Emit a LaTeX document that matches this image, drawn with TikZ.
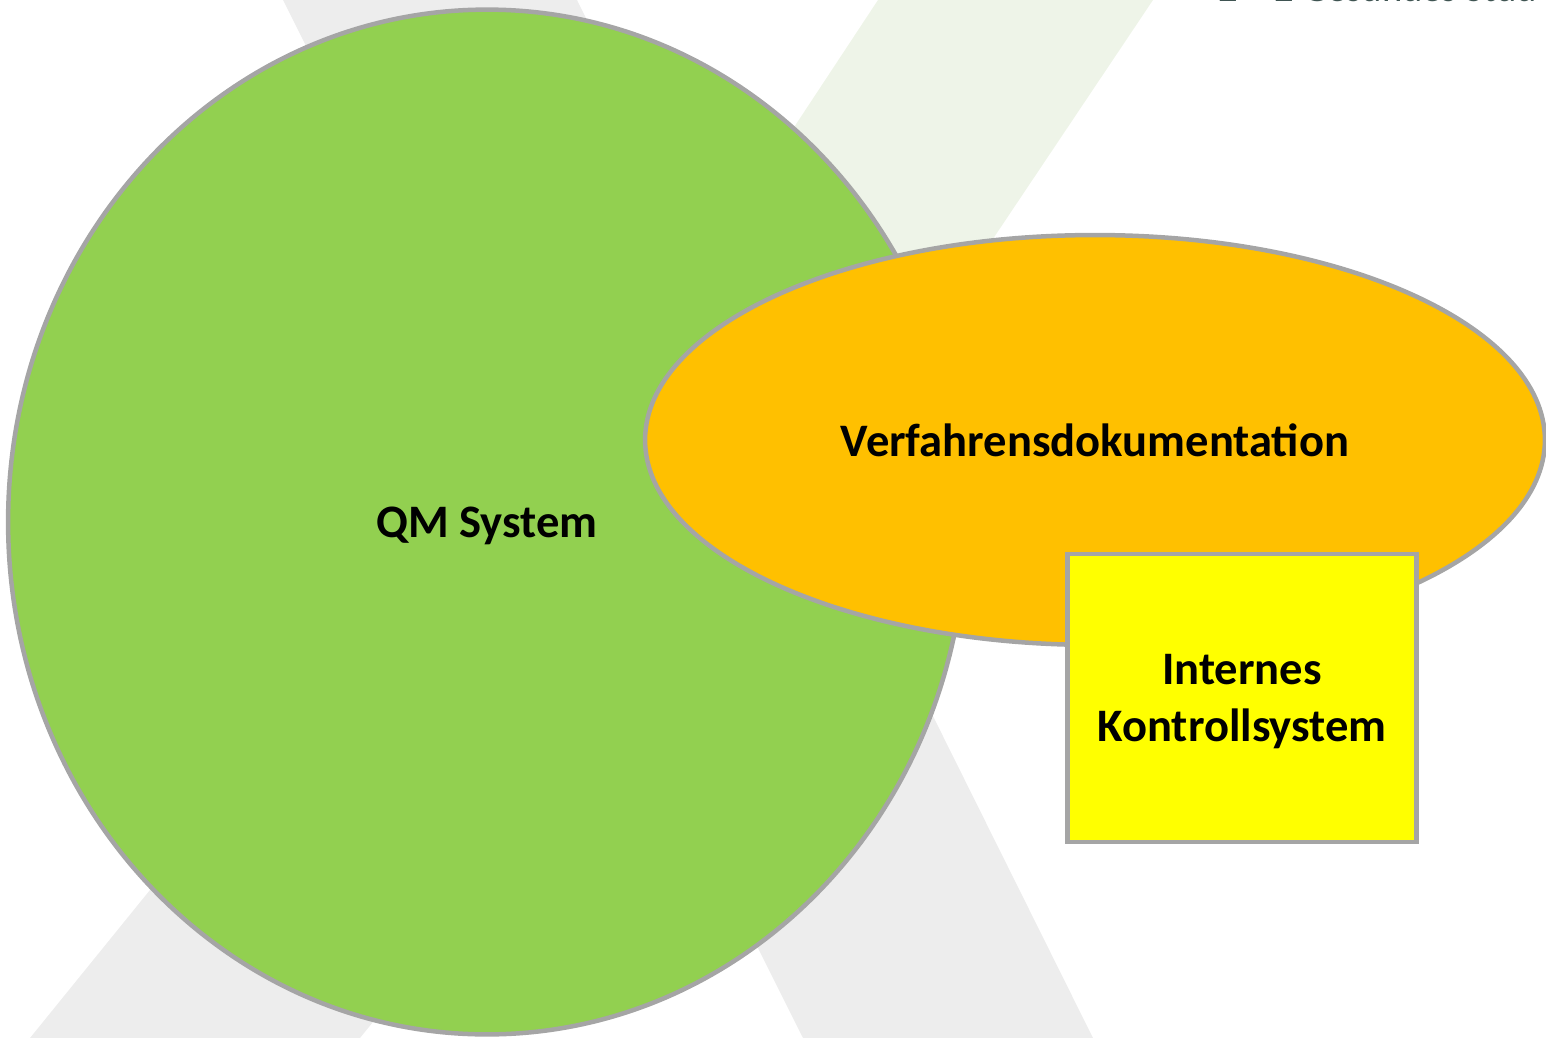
\documentclass[tikz,border=0pt]{standalone}
\usepackage{fontspec}
\setmainfont{Carlito}
\usepackage{xcolor}
\usetikzlibrary{shapes.geometric}

\definecolor{qmgreen}{HTML}{92D050}
\definecolor{docorange}{HTML}{FFC000}
\definecolor{iksyellow}{HTML}{FFFF00}
\definecolor{rimgrey}{HTML}{A5A5A5}
\definecolor{bandgrey}{HTML}{EDEDED}
\definecolor{bandgreen}{HTML}{EEF4E8}
\definecolor{headgrey}{HTML}{3F5452}

\begin{document}
\begin{tikzpicture}[x=0.02cm,y=-0.02cm,
    rim/.style={draw=rimgrey,line width=0.09cm,inner sep=0pt},
    bigtext/.style={font=\bfseries\fontsize{26.5}{32}\selectfont,text=black,text depth=0pt}]
    \useasboundingbox (0,0) rectangle (1546,1038);
    \clip (0,0) rectangle (1546,1038);

    % Logo bands in the background
    \fill[bandgrey] (283,0) -- (577,0) -- (1093,1038) -- (803,1038) -- cycle;
    \fill[bandgreen] (878,0) -- (1153,0) -- (818,500) -- (548,500) -- cycle;
    \fill[bandgrey] (30,1038) -- (360,1038) -- (634,700) -- (304,700) -- cycle;

    % Page header, cut at the top edge
    \node[anchor=base west,inner sep=0pt,text=headgrey,
          font=\fontsize{22}{26}\selectfont] (head) at (1218,1) {2 -- 2 Gesundes Stud};

    % QM system
    \node[rim,ellipse,fill=qmgreen,minimum width=19.16cm,minimum height=20.5cm,
          bigtext] (qm) at (487,522) {QM System};

    % Verfahrensdokumentation
    \node[rim,ellipse,fill=docorange,minimum width=18cm,minimum height=8.2cm,
          bigtext] (doc) at (1095,440) {Verfahrensdokumentation};

    % Internes Kontrollsystem
    \node[rim,rectangle,fill=iksyellow,minimum width=6.98cm,minimum height=5.76cm,
          align=center,bigtext] (iks) at (1242,698) {Internes\\Kontrollsystem};
\end{tikzpicture}
\end{document}
